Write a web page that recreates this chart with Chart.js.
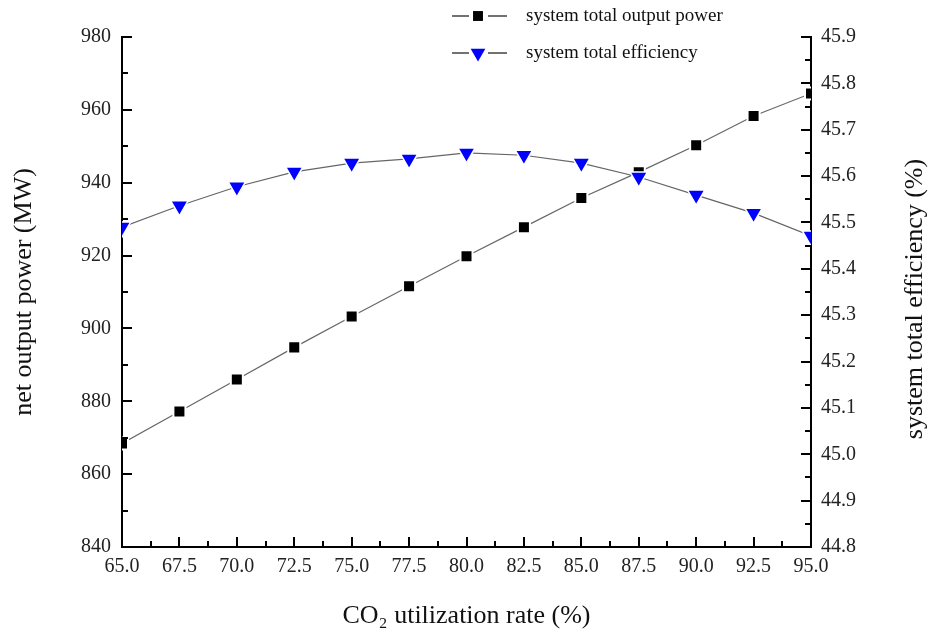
<!DOCTYPE html>
<html>
<head>
<meta charset="utf-8">
<title>net output power and efficiency vs CO2 utilization rate</title>
<script src="https://cdn.jsdelivr.net/npm/chart.js@4/dist/chart.umd.min.js"></script>
<style>
    html, body { margin: 0; padding: 0; background: #fff; }
    #wrap { width: 930px; height: 637px; }
</style>
</head>
<body>
<div id="wrap"><canvas id="powerChart" width="930" height="637"></canvas></div>
<script>
// CO2 utilization rate (%)
const utilization = [65.0, 67.5, 70.0, 72.5, 75.0, 77.5, 80.0, 82.5, 85.0, 87.5, 90.0, 92.5, 95.0];
// system total output power (MW)
const outputPower = [868.4, 877.2, 886.0, 894.8, 903.3, 911.6, 919.8, 927.8, 935.8, 942.9, 950.3, 958.3, 964.5];
// system total efficiency (%)
const efficiency = [45.490, 45.536, 45.577, 45.609, 45.628, 45.637, 45.650, 45.645, 45.628, 45.598, 45.559, 45.520, 45.471];

const legendLabels = ['system total output power', 'system total efficiency'];
const xTitle = 'CO\u2082 utilization rate (%)';
const yLeftTitle = 'net output power (MW)';
const yRightTitle = 'system total efficiency (%)';

const SERIF = '"Liberation Serif", "Times New Roman", serif';
const LINE_GREY = '#666';

// inward major ticks + minor ticks halfway between them
const axisTicks = {
    id: 'axisTicks',
    afterDatasetsDraw(chart) {
        const ctx = chart.ctx;
        ctx.save();
        ctx.strokeStyle = '#000';
        ctx.lineWidth = 2;
        Object.values(chart.scales).forEach(scale => {
            const vals = scale.ticks.map(t => t.value);
            const step = vals[1] - vals[0];
            const marks = [];
            vals.forEach((v, i) => {
                marks.push([v, 10]);
                if (i < vals.length - 1) marks.push([v + step / 2, 6]);
            });
            marks.forEach(([v, len]) => {
                const p = Math.round(scale.getPixelForValue(v));
                ctx.beginPath();
                if (scale.axis === 'x') {
                    ctx.moveTo(p, scale.top);
                    ctx.lineTo(p, scale.top - len);
                } else if (scale.position === 'left') {
                    ctx.moveTo(scale.right, p);
                    ctx.lineTo(scale.right + len, p);
                } else {
                    ctx.moveTo(scale.left, p);
                    ctx.lineTo(scale.left - len, p);
                }
                ctx.stroke();
            });
        });
        ctx.restore();
    }
};

// legend rows above the plot, plus the right axis title (reads bottom-to-top)
const sideDecor = {
    id: 'sideDecor',
    afterDraw(chart) {
        const ctx = chart.ctx;
        ctx.save();
        const rows = [16, 53];
        chart.data.datasets.forEach(ds => {
            const row = legendLabels.indexOf(ds.label);
            const y = rows[row];
            const cx = 478;
            ctx.strokeStyle = '#444';
            ctx.lineWidth = 1.5;
            ctx.beginPath();
            ctx.moveTo(452, y); ctx.lineTo(469, y);
            ctx.moveTo(488, y); ctx.lineTo(507, y);
            ctx.stroke();
            ctx.fillStyle = ds.pointBackgroundColor;
            ctx.strokeStyle = ds.pointBackgroundColor;
            Chart.helpers.drawPoint(ctx, {
                pointStyle: ds.pointStyle,
                rotation: ds.pointRotation || 0,
                radius: ds.pointRadius - 1.5,
                borderWidth: 0
            }, cx, y);
            ctx.fillStyle = '#111';
            ctx.font = '19px ' + SERIF;
            ctx.textBaseline = 'middle';
            ctx.textAlign = 'left';
            ctx.fillText(ds.label, 526, y);
        });

        const ys = chart.scales.y1;
        ctx.translate(915, (ys.top + ys.bottom) / 2 + 7);
        ctx.rotate(-Math.PI / 2);
        ctx.fillStyle = '#111';
        ctx.font = '26px ' + SERIF;
        ctx.textAlign = 'center';
        ctx.textBaseline = 'middle';
        ctx.fillText(yRightTitle, 0, 0);
        ctx.restore();
    }
};

const tickFont = { family: SERIF, size: 20 };

new Chart(document.getElementById('powerChart'), {
    type: 'line',
    data: {
        datasets: [{
            label: legendLabels[1],
            data: utilization.map((x, i) => ({ x: x, y: efficiency[i] })),
            yAxisID: 'y1',
            order: 0,
            borderColor: LINE_GREY,
            borderWidth: 1.2,
            pointStyle: 'triangle',
            pointRotation: 180,
            pointRadius: 10,
            pointBackgroundColor: '#0000ff',
            pointBorderColor: '#fff',
            pointBorderWidth: 1.5,
            clip: 0
        }, {
            label: legendLabels[0],
            data: utilization.map((x, i) => ({ x: x, y: outputPower[i] })),
            yAxisID: 'y',
            order: 1,
            borderColor: LINE_GREY,
            borderWidth: 1.2,
            pointStyle: 'rect',
            pointRadius: 8.5,
            pointBackgroundColor: '#000',
            pointBorderColor: '#fff',
            pointBorderWidth: 2,
            clip: 0
        }]
    },
    options: {
        responsive: false,
        animation: false,
        layout: { padding: { top: 37, left: 0, right: 0, bottom: 0 } },
        plugins: {
            legend: { display: false },
            tooltip: { enabled: false }
        },
        scales: {
            x: {
                type: 'linear',
                position: 'bottom',
                min: 65, max: 95,
                afterFit: s => { s.height = 90; },
                border: { display: true, color: '#000', width: 2 },
                grid: { display: true, drawOnChartArea: false, drawTicks: false },
                ticks: {
                    stepSize: 2.5,
                    padding: 8,
                    color: '#222',
                    font: tickFont,
                    maxRotation: 0,
                    autoSkip: false,
                    callback: v => Number(v).toFixed(1)
                },
                title: {
                    display: true,
                    text: xTitle,
                    color: '#111',
                    font: { family: SERIF, size: 26 },
                    padding: { top: 0, bottom: 5 }
                }
            },
            y: {
                type: 'linear',
                position: 'left',
                min: 840, max: 980,
                afterFit: s => { s.width = 122; },
                border: { display: true, color: '#000', width: 2 },
                grid: { display: true, drawOnChartArea: false, drawTicks: false },
                ticks: {
                    stepSize: 20,
                    padding: 11,
                    color: '#222',
                    font: tickFont
                },
                title: {
                    display: true,
                    text: yLeftTitle,
                    color: '#111',
                    font: { family: SERIF, size: 26 },
                    padding: { top: 9, bottom: 0 }
                }
            },
            y1: {
                type: 'linear',
                position: 'right',
                min: 44.8, max: 45.9,
                afterFit: s => { s.width = 119; },
                border: { display: true, color: '#000', width: 2 },
                grid: { display: true, drawOnChartArea: false, drawTicks: false },
                ticks: {
                    stepSize: 0.1,
                    padding: 10,
                    color: '#222',
                    font: tickFont,
                    callback: v => Number(v).toFixed(1)
                }
            }
        }
    },
    plugins: [axisTicks, sideDecor]
});
</script>
</body>
</html>
